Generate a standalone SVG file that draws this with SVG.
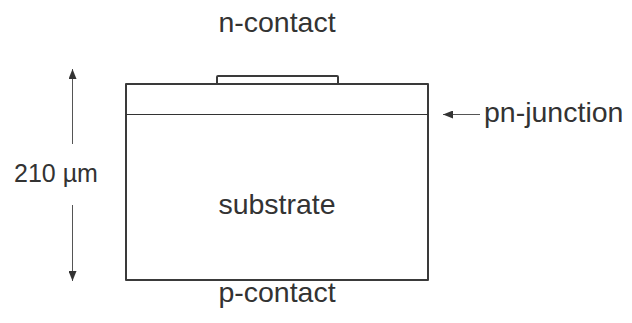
<svg xmlns="http://www.w3.org/2000/svg" width="632" height="323" viewBox="0 0 632 323">
<style>
text{font-family:"Liberation Sans",Arial,sans-serif;font-size:28.5px;fill:#333}
.dim{font-size:25px}
.thick{fill:none;stroke:#3a3a3a;stroke-width:2;stroke-linejoin:round}
.thin{fill:none;stroke:#333;stroke-width:1}
.arr{fill:none;stroke:#555;stroke-width:1}
</style>
<defs>
<marker id="ah" viewBox="0 0 10 8" refX="10" refY="4" markerWidth="10" markerHeight="8" markerUnits="userSpaceOnUse" orient="auto">
<path d="M0,0 L10,4 L0,8 Z" fill="#333"/>
</marker>
</defs>
<rect width="632" height="323" fill="#fff"/>
<g id="substrate">
<rect class="thick" x="126" y="84" width="302" height="196"/>
<text x="277" y="214" text-anchor="middle">substrate</text>
</g>
<g id="junction-line">
<line class="thin" x1="126" y1="114.5" x2="428" y2="114.5"/>
</g>
<g id="n-contact">
<path class="thick" d="M217,84 V77 Q217,76 218,76 H337 Q338,76 338,77 V84"/>
<text x="277" y="32" text-anchor="middle">n-contact</text>
</g>
<g id="p-contact">
<text x="277" y="302" text-anchor="middle">p-contact</text>
</g>
<g id="pn-junction">
<text x="484" y="122">pn-junction</text>
</g>
<g id="thickness">
<text class="dim" x="56" y="182" text-anchor="middle">210 µm</text>
</g>
<g id="connectors">
<line class="arr" x1="72.5" y1="144" x2="72.5" y2="69" marker-end="url(#ah)"/>
<line class="arr" x1="72.5" y1="205" x2="72.5" y2="281" marker-end="url(#ah)"/>
<line class="arr" x1="480" y1="114.5" x2="443" y2="114.5" marker-end="url(#ah)"/>
</g>
</svg>
